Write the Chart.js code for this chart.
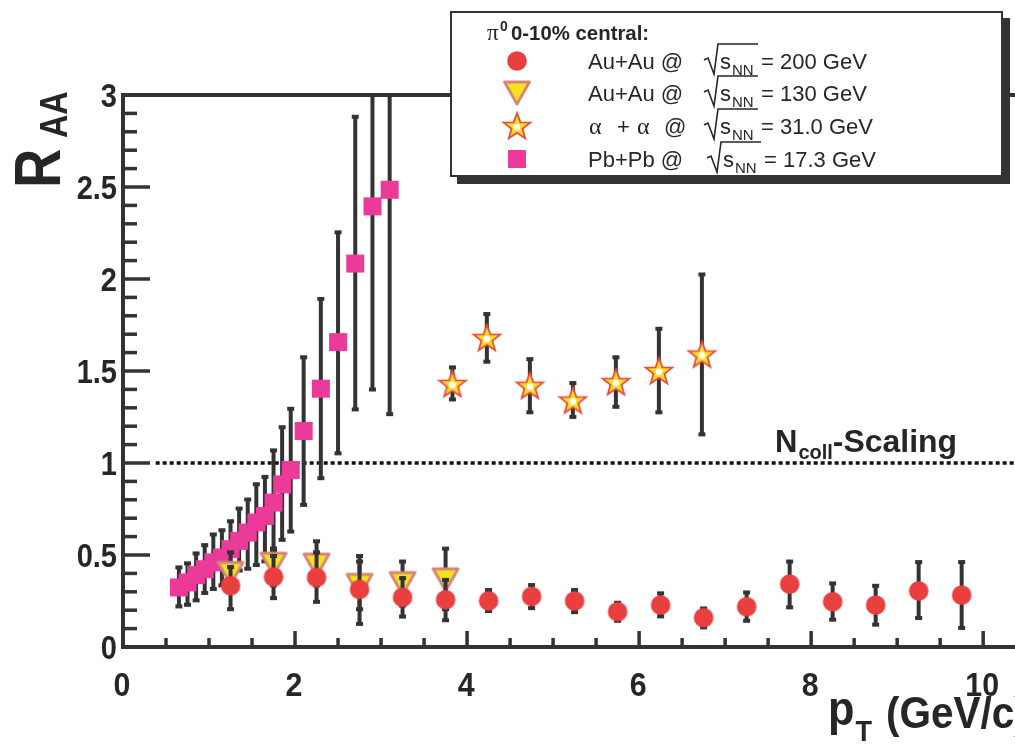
<!DOCTYPE html>
<html>
<head>
<meta charset="utf-8">
<script src="https://cdn.jsdelivr.net/npm/chart.js@4.4.1/dist/chart.umd.min.js"></script>
<style>
  html, body { margin: 0; padding: 0; background: #ffffff; }
  canvas { display: block; }
</style>
</head>
<body>
<canvas id="raa-chart" width="1015" height="744"></canvas>
<script>
// pi0 0-10% central, Au+Au @ 200 GeV
const pt200 = [1.25, 1.75, 2.25, 2.75, 3.25, 3.75, 4.25, 4.75, 5.25, 5.75, 6.25, 6.75, 7.25, 7.75, 8.25, 8.75, 9.25, 9.75];
const raa200 = [0.333, 0.381, 0.378, 0.313, 0.270, 0.257, 0.251, 0.275, 0.250, 0.192, 0.228, 0.159, 0.219, 0.342, 0.246, 0.228, 0.305, 0.282];
const lo200 = [0.20, 0.26, 0.24, 0.12, 0.16, 0.14, 0.19, 0.206, 0.184, 0.137, 0.161, 0.101, 0.137, 0.21, 0.143, 0.116, 0.152, 0.098];
const hi200 = [0.44, 0.50, 0.52, 0.50, 0.38, 0.37, 0.315, 0.342, 0.315, 0.246, 0.297, 0.215, 0.302, 0.47, 0.351, 0.338, 0.467, 0.467];

// Au+Au @ 130 GeV
const pt130 = [1.25, 1.75, 2.25, 2.75, 3.25, 3.75];
const raa130 = [0.40, 0.45, 0.445, 0.335, 0.345, 0.365];
const lo130 = [0.30, 0.33, 0.33, 0.20, 0.22, 0.20];
const hi130 = [0.52, 0.53, 0.58, 0.47, 0.47, 0.54];

// alpha + alpha @ 31.0 GeV
const pt31 = [3.83, 4.23, 4.73, 5.23, 5.73, 6.23, 6.73];
const raa31 = [1.43, 1.68, 1.42, 1.34, 1.44, 1.50, 1.59];
const lo31 = [1.34, 1.545, 1.27, 1.245, 1.30, 1.27, 1.15];
const hi31 = [1.525, 1.815, 1.57, 1.44, 1.58, 1.735, 2.03];

// Pb+Pb @ 17.3 GeV
const pt17 = [0.65, 0.75, 0.85, 0.95, 1.05, 1.15, 1.25, 1.35, 1.45, 1.55, 1.65, 1.75, 1.85, 1.95, 2.1, 2.3, 2.5, 2.7, 2.9, 3.1];
const raa17 = [0.324, 0.351, 0.391, 0.423, 0.46, 0.487, 0.532, 0.577, 0.622, 0.677, 0.712, 0.785, 0.884, 0.962, 1.174, 1.404, 1.657, 2.084, 2.395, 2.485];
const lo17 = [0.215, 0.224, 0.248, 0.288, 0.31, 0.33, 0.37, 0.41, 0.42, 0.44, 0.46, 0.53, 0.577, 0.622, 0.767, 0.912, 1.047, 1.286, 1.394, 1.26];
const hi17 = [0.438, 0.46, 0.514, 0.559, 0.617, 0.64, 0.689, 0.758, 0.807, 0.89, 0.93, 1.074, 1.20, 1.30, 1.58, 1.897, 2.259, 2.887, 3.4, 3.7];

const xTickLabels = ['0', '2', '4', '6', '8', '10'];
const yTickLabels = ['0', '0.5', '1', '1.5', '2', '2.5', '3'];
const legendRows = [
    { sys: 'Au+Au @', energy: '= 200 GeV' },
    { sys: 'Au+Au @', energy: '= 130 GeV' },
    { sys: 'alpha', energy: '= 31.0 GeV' },
    { sys: 'Pb+Pb @', energy: '= 17.3 GeV' },
];

const INK = '#333333';
const SANS = '"Liberation Sans", Arial, Helvetica, sans-serif';
const SERIF = '"Liberation Serif", "Times New Roman", serif';

function makeCanvas(w, h) {
    const c = document.createElement('canvas');
    c.width = w;
    c.height = h;
    return c;
}

function circleMarker() {
    const c = makeCanvas(22, 22);
    const g = c.getContext('2d');
    g.fillStyle = '#e9403f';
    g.beginPath();
    g.arc(11, 11, 9.8, 0, Math.PI * 2);
    g.fill();
    return c;
}

function squareMarker() {
    const c = makeCanvas(20, 20);
    const g = c.getContext('2d');
    g.fillStyle = '#ec3a99';
    g.fillRect(1, 1, 18, 18);
    return c;
}

function triangleMarker() {
    const c = makeCanvas(30, 28);
    const g = c.getContext('2d');
    g.beginPath();
    g.moveTo(2.5, 3);
    g.lineTo(27.5, 3);
    g.lineTo(15, 25);
    g.closePath();
    g.fillStyle = '#f5e21f';
    g.fill();
    g.lineWidth = 2.8;
    g.strokeStyle = '#d58577';
    g.lineJoin = 'round';
    g.stroke();
    return c;
}

function starMarker() {
    const c = makeCanvas(32, 32);
    const g = c.getContext('2d');
    g.beginPath();
    for (let i = 0; i < 10; i++) {
        const r = i % 2 === 0 ? 14 : 5.8;
        const a = -Math.PI / 2 + i * Math.PI / 5;
        const px = 16 + r * Math.cos(a);
        const py = 17 + r * Math.sin(a);
        if (i === 0) g.moveTo(px, py); else g.lineTo(px, py);
    }
    g.closePath();
    g.fillStyle = '#f8e02a';
    g.fill();
    g.lineWidth = 1.8;
    g.strokeStyle = '#ee4a38';
    g.stroke();
    g.fillStyle = '#ffffff';
    g.beginPath();
    g.arc(16, 17, 3.2, 0, Math.PI * 2);
    g.fill();
    return c;
}

const markers = {
    circle: circleMarker(),
    triangle: triangleMarker(),
    star: starMarker(),
    square: squareMarker(),
};

function points(xs, ys) {
    return xs.map((x, i) => ({ x, y: ys[i] }));
}

function text(ctx, str, x, y, font, opts = {}) {
    ctx.save();
    ctx.font = font;
    ctx.fillStyle = opts.color || '#262626';
    ctx.textAlign = opts.align || 'left';
    ctx.textBaseline = opts.baseline || 'alphabetic';
    ctx.translate(x, y);
    if (opts.rotate) ctx.rotate(opts.rotate);
    ctx.scale(opts.sx || 1, 1);
    ctx.fillText(str, 0, 0);
    const w = ctx.measureText(str).width * (opts.sx || 1);
    ctx.restore();
    return w;
}

const errorBarPlugin = {
    id: 'errorBars',
    beforeDatasetDraw(chart, args) {
        const ds = chart.data.datasets[args.index];
        if (!ds.errLo) return;
        const { ctx, chartArea } = chart;
        const xs = chart.scales.x;
        const ys = chart.scales.y;
        ctx.save();
        ctx.beginPath();
        ctx.rect(chartArea.left, chartArea.top, chartArea.right - chartArea.left, chartArea.bottom - chartArea.top);
        ctx.clip();
        ctx.fillStyle = INK;
        ds.data.forEach((p, i) => {
            const px = xs.getPixelForValue(p.x);
            const top = ys.getPixelForValue(ds.errHi[i]);
            const bot = ys.getPixelForValue(ds.errLo[i]);
            ctx.fillRect(px - 2, top, 4, bot - top);
            ctx.fillRect(px - 3.5, top - 1, 7, 4);
            ctx.fillRect(px - 3.5, bot - 3, 7, 4);
        });
        ctx.restore();
    },
};

const framePlugin = {
    id: 'frame',
    beforeDatasetsDraw(chart) {
        const { ctx, chartArea } = chart;
        const xs = chart.scales.x;
        const ys = chart.scales.y;
        const y1 = ys.getPixelForValue(1);
        ctx.save();
        ctx.strokeStyle = '#111111';
        ctx.lineWidth = 3.5;
        ctx.setLineDash([4, 3]);
        ctx.beginPath();
        ctx.moveTo(xs.getPixelForValue(0.38), y1);
        ctx.lineTo(chartArea.right, y1);
        ctx.stroke();
        ctx.restore();

        // N_coll-Scaling label
        let x = 775;
        x += text(ctx, 'N', x, 452, 'bold 31px ' + SANS);
        x += text(ctx, 'coll', x + 1, 459, 'bold 20px ' + SANS) + 1;
        text(ctx, '-Scaling', x, 452, 'bold 31px ' + SANS, { sx: 1.03 });
    },
    afterDatasetsDraw(chart) {
        const { ctx, chartArea } = chart;
        const xs = chart.scales.x;
        const ys = chart.scales.y;
        const L = chartArea.left, R = chartArea.right, T = chartArea.top, B = chartArea.bottom;
        ctx.save();
        ctx.fillStyle = INK;
        // frame lines
        ctx.fillRect(L - 2, T - 2, R - L + 2, 4);
        ctx.fillRect(L - 2, T - 2, 4, B - T + 4);
        ctx.fillRect(L - 2, B - 2, R - L + 2, 4);
        // y ticks: minor every 0.1, major every 0.5
        for (let k = 1; k < 30; k++) {
            const py = ys.getPixelForValue(k / 10);
            const len = k % 5 === 0 ? 27 : 14;
            ctx.fillRect(L, py - 1.75, len, 3.5);
        }
        // x ticks: minor every 0.5, major every 2
        for (let k = 1; k <= 20; k++) {
            const px = xs.getPixelForValue(k / 2);
            const len = k % 4 === 0 ? 16 : 9;
            ctx.fillRect(px - 1.75, B - len, 3.5, len);
        }
        ctx.restore();

        const tickFont = 'bold 33px ' + SANS;
        yTickLabels.forEach((lab) => {
            text(ctx, lab, 117, ys.getPixelForValue(Number(lab)) + 12, tickFont, { align: 'right', sx: 0.88 });
        });
        xTickLabels.forEach((lab) => {
            text(ctx, lab, xs.getPixelForValue(Number(lab)) - 1, 696, tickFont, { align: 'center', sx: 0.92 });
        });

        // axis titles
        const up = -Math.PI / 2;
        text(ctx, 'R', 60, 188, 'bold 64px ' + SANS, { rotate: up, sx: 0.85 });
        text(ctx, 'AA', 67, 138, 'bold 38px ' + SANS, { rotate: up, sx: 0.85 });

        let x = 828;
        x += text(ctx, 'p', x, 725, 'bold 48px ' + SANS, { sx: 0.9 });
        x += text(ctx, 'T', x + 1, 741, 'bold 30px ' + SANS, { sx: 0.9 }) + 6;
        text(ctx, '(GeV/c)', 886, 728, 'bold 45px ' + SANS, { sx: 0.9 });
    },
    afterDraw(chart) {
        const { ctx } = chart;
        const bx = 450, by = 11, bw = 553, bh = 166;
        ctx.save();
        ctx.fillStyle = INK;
        ctx.fillRect(bx + 7, by + 7, bw, bh);
        ctx.fillStyle = '#ffffff';
        ctx.fillRect(bx, by, bw, bh);
        ctx.strokeStyle = INK;
        ctx.lineWidth = 2;
        ctx.strokeRect(bx + 1, by + 1, bw - 2, bh - 2);
        ctx.restore();

        // header
        text(ctx, '\u03c0', 487, 40, '23px ' + SERIF);
        text(ctx, '0', 500, 31, 'bold 14px ' + SANS);
        text(ctx, '0-10% central:', 511, 40, 'bold 21px ' + SANS, { sx: 0.97 });

        const rowY = [61, 93, 126, 159];
        const rowMarkers = [markers.circle, markers.triangle, markers.star, markers.square];
        const font = '22px ' + SANS;
        legendRows.forEach((row, i) => {
            const cy = rowY[i];
            const m = rowMarkers[i];
            ctx.drawImage(m, 517 - m.width / 2, cy - m.height / 2);
            const base = cy + 8;
            if (row.sys === 'alpha') {
                text(ctx, '\u03b1', 589, base, '24px ' + SERIF);
                text(ctx, '+', 617, base, font);
                text(ctx, '\u03b1', 637, base, '24px ' + SERIF);
                text(ctx, '@', 664, base, font);
            } else {
                text(ctx, row.sys, 588, base, font);
            }
            // radical sign sqrt(s_NN)
            const rx = i === 3 ? 707 : 704;
            ctx.save();
            ctx.strokeStyle = '#262626';
            ctx.lineWidth = 1.6;
            ctx.beginPath();
            ctx.moveTo(rx, cy - 1);
            ctx.lineTo(rx + 4, cy - 3);
            ctx.lineTo(rx + 10, cy + 13);
            ctx.lineTo(rx + 14, cy - 17);
            ctx.lineTo(rx + 54, cy - 17);
            ctx.stroke();
            ctx.restore();
            text(ctx, 's', rx + 16, base, font);
            text(ctx, 'NN', rx + 28, base + 6, '15px ' + SANS);
            text(ctx, row.energy, rx + 57, base, font);
        });
    },
};

const chart = new Chart(document.getElementById('raa-chart'), {
    type: 'scatter',
    data: {
        datasets: [
            {
                label: 'Au+Au 200 GeV',
                data: points(pt200, raa200),
                errLo: lo200,
                errHi: hi200,
                pointStyle: markers.circle,
                pointRadius: 9,
            },
            {
                label: 'Au+Au 130 GeV',
                data: points(pt130, raa130),
                errLo: lo130,
                errHi: hi130,
                pointStyle: markers.triangle,
                pointRadius: 10,
            },
            {
                label: 'alpha+alpha 31.0 GeV',
                data: points(pt31, raa31),
                errLo: lo31,
                errHi: hi31,
                pointStyle: markers.star,
                pointRadius: 12,
            },
            {
                label: 'Pb+Pb 17.3 GeV',
                data: points(pt17, raa17),
                errLo: lo17,
                errHi: hi17,
                pointStyle: markers.square,
                pointRadius: 9,
            },
        ],
    },
    options: {
        responsive: false,
        animation: false,
        layout: { autoPadding: false, padding: { left: 123, top: 95, right: 0, bottom: 97 } },
        scales: {
            x: { type: 'linear', min: 0, max: 10.37, display: false },
            y: { type: 'linear', min: 0, max: 3, display: false },
        },
        plugins: {
            legend: { display: false },
            tooltip: { enabled: false },
        },
    },
    plugins: [errorBarPlugin, framePlugin],
});
</script>
</body>
</html>
